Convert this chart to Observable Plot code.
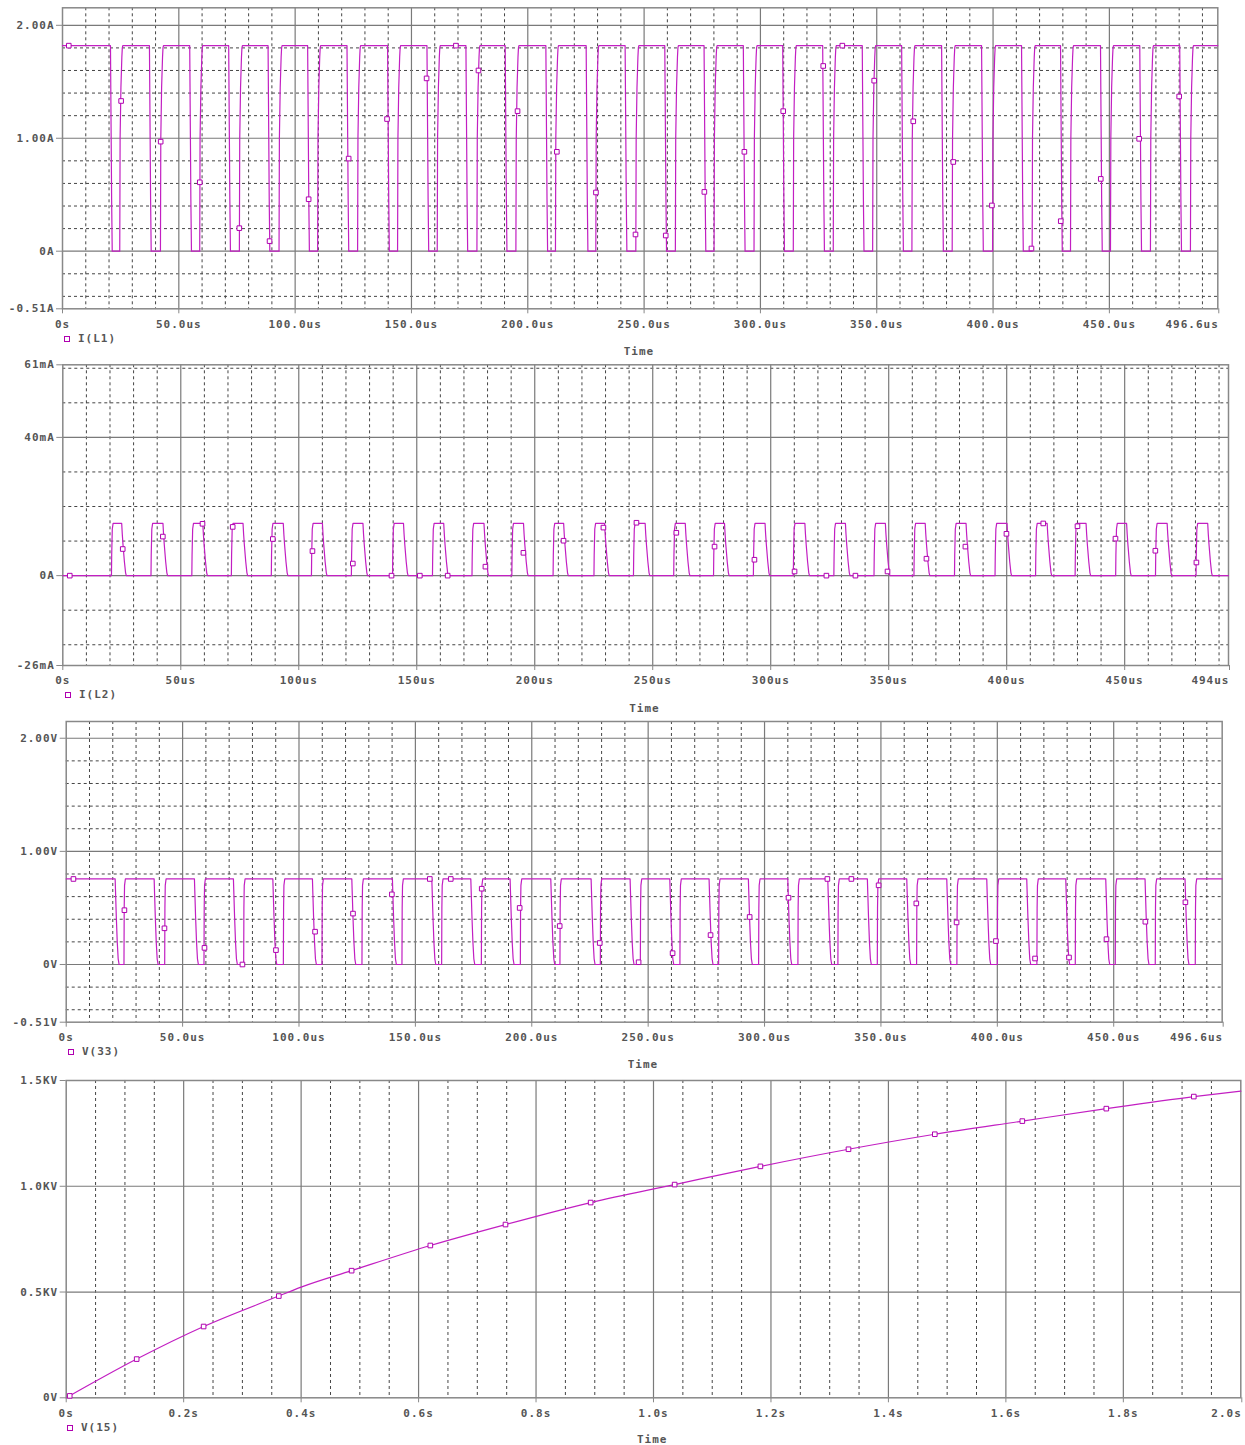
<!DOCTYPE html>
<html><head><meta charset="utf-8">
<script src="https://cdn.jsdelivr.net/npm/d3@7"></script>
<script src="https://cdn.jsdelivr.net/npm/@observablehq/plot@0.6"></script>
<style>
html,body{margin:0;padding:0;background:#fff;}
#root{position:relative;width:1245px;height:1445px;overflow:hidden;background:#fff;}
.panel{position:absolute;left:0;}
.panel text{letter-spacing:1px;}
.lbl{position:absolute;font-family:"DejaVu Sans Mono",monospace;font-size:11px;line-height:12px;font-weight:bold;color:#555;letter-spacing:1px;white-space:nowrap;}
.mk{position:absolute;width:4px;height:4px;border:1px solid #b000b0;background:#fff;}
</style></head><body><div id="root"></div>
<script>
// ---------- DATA ----------
// switching instants in microseconds (shared by I(L1), I(L2), V(33))
const FALL_US = [20.62,37.37,54.68,71.43,88.36,105.37,122.29,139.73,156.66,173.41,190.29,207.77,225.09,241.84,258.89,275.77,292.65,309.58,326.76,343.77,360.70,377.88,395.06,412.24,429.00,446.18,463.06,480.24];
const RISE_US = [24.61,42.10,58.98,76.03,93.08,109.67,126.85,144.03,161.08,178.14,194.89,211.90,229.25,246.44,263.44,280.07,297.25,314.13,331.31,348.24,365.12,382.43,399.79,416.80,433.29,450.47,467.65,484.84];

// I(L1) levels (A) and edge shapes [offset us, A]
const L1_HIGH = 1.82;
const L1_FALL_SHAPE = [[0,1.82],[0.3,1.0],[0.5,0.45],[0.75,0]];
const L1_RISE_SHAPE = [[0,0],[0.15,1.0],[0.5,1.45],[0.9,1.72],[1.1,1.80],[1.3,1.82]];
const L1_MARK_T = [2.7,25.2,42.2,59.0,76.0,89.0,105.8,123.0,139.5,156.5,169.1,178.8,195.6,212.5,229.3,246.3,259.3,275.9,293.1,309.8,327.0,335.2,348.9,365.7,382.9,399.5,416.5,429.1,446.3,462.8,480.0];
const L1_MARK_A = [1.82,1.33,0.97,0.61,0.204,0.089,0.46,0.82,1.17,1.53,1.82,1.6,1.24,0.88,0.52,0.148,0.139,0.525,0.88,1.24,1.64,1.82,1.51,1.15,0.79,0.405,0.024,0.266,0.64,0.995,1.37];

// I(L2) pulse shapes (mA)
const L2_RISE_SHAPE = [[0,0],[0.1,6],[0.35,13.5],[0.7,15.1]];
const L2_FALL_SHAPE = [[0.35,15.1],[0.6,12],[0.9,9],[1.5,4],[2.0,0.8],[2.3,0]];
const L2_MARK_T = [2.95,25.4,42.4,59.2,72.0,89.0,105.8,122.9,139.3,151.3,163.1,179.1,195.2,212.2,229.1,243.1,260.0,276.2,293.1,310.1,323.6,335.9,349.5,366.0,382.5,399.9,415.5,430.0,446.1,463.0,480.4];
const L2_MARK_MA = [0,7.7,11.3,15.0,14.1,10.6,7.1,3.5,0,0,0,2.6,6.6,10.1,13.9,15.3,12.4,8.4,4.6,1.2,0,0,1.2,4.9,8.4,12.1,15.1,14.3,10.7,7.2,3.8];

// V(33) (V)
const V33_HIGH = 0.756;
const V33_FALL_SHAPE = [[0.4,0.756],[0.6,0.62],[0.9,0.42],[1.3,0.2],[1.7,0.05],[2.1,0]];
const V33_RISE_SHAPE = [[0.2,0],[0.3,0.5],[0.45,0.70],[0.8,0.756]];
const V33_MARK_T = [3.1,25.0,42.2,59.4,75.7,90.1,106.9,123.2,139.9,156.2,165.2,178.5,194.8,212.0,229.2,245.9,260.5,276.8,293.6,310.3,327.0,337.3,349.0,365.2,382.5,399.4,416.2,430.8,446.9,463.6,480.8];
const V33_MARK_V = [0.756,0.48,0.32,0.147,0,0.127,0.29,0.45,0.62,0.756,0.756,0.67,0.50,0.34,0.19,0.02,0.10,0.26,0.42,0.59,0.756,0.756,0.70,0.54,0.372,0.207,0.053,0.062,0.224,0.378,0.55];

// V(15) (s, kV)
const V15_T  = [0,0.12,0.234,0.362,0.4,0.486,0.62,0.748,0.893,1.036,1.182,1.332,1.479,1.628,1.771,1.92,2.0];
const V15_KV = [0,0.183,0.337,0.481,0.523,0.601,0.72,0.819,0.923,1.008,1.094,1.175,1.246,1.308,1.367,1.424,1.45];
const V15_MARK_T  = [0.006,0.12,0.234,0.362,0.486,0.62,0.748,0.893,1.036,1.182,1.332,1.479,1.628,1.771,1.92];
const V15_MARK_KV = [0.009,0.183,0.337,0.481,0.601,0.72,0.819,0.923,1.008,1.094,1.175,1.246,1.308,1.367,1.424];

// tick labels
const US_TICKS = [0,50,100,150,200,250,300,350,400,450];
const P1_XLABELS = ["0s","50.0us","100.0us","150.0us","200.0us","250.0us","300.0us","350.0us","400.0us","450.0us"];
const P2_XLABELS = ["0s","50us","100us","150us","200us","250us","300us","350us","400us","450us"];
const S_TICKS = [0,0.2,0.4,0.6,0.8,1.0,1.2,1.4,1.6,1.8];
const P4_XLABELS = ["0s","0.2s","0.4s","0.6s","0.8s","1.0s","1.2s","1.4s","1.6s","1.8s"];
const P1_YTICKS = [2,1,0,-0.51], P1_YLABELS = ["2.00A","1.00A","0A","-0.51A"];
const P2_YTICKS = [61,40,0,-26], P2_YLABELS = ["61mA","40mA","0A","-26mA"];
const P3_YTICKS = [2,1,0,-0.51], P3_YLABELS = ["2.00V","1.00V","0V","-0.51V"];
const P4_YTICKS = [1.5,1.0,0.5,0], P4_YLABELS = ["1.5KV","1.0KV","0.5KV","0V"];

// ---------- build tables ----------
function wave(start, fallShape, riseShape, endT, endV) {
  const rows = [{t: 0, v: start}];
  FALL_US.forEach((tf, i) => {
    fallShape.forEach(([dt, v]) => rows.push({t: tf + dt, v}));
    riseShape.forEach(([dt, v]) => rows.push({t: RISE_US[i] + dt, v}));
  });
  rows.push({t: endT, v: endV});
  return rows;
}
const l1Rows = wave(L1_HIGH, L1_FALL_SHAPE, L1_RISE_SHAPE, 496.6, L1_HIGH);
const l2Rows = wave(0, L2_RISE_SHAPE, L2_FALL_SHAPE, 494, 0);
const v33Rows = wave(V33_HIGH, V33_FALL_SHAPE, V33_RISE_SHAPE, 496.6, V33_HIGH);
const zip = (T, V) => T.map((t, i) => ({t, v: V[i]}));
const v15Rows = zip(V15_T, V15_KV);

const TRACE = "#c21fc2", MARK = "#b000b0", DASH = "#444", MAJOR = "#7a7a7a", FRAME = "#888";
const root = document.getElementById("root");

function panel(cfg) {
  const xMinor = d3.range(cfg.minorStep, cfg.xDomain[1] - 1e-9, cfg.minorStep)
    .filter(v => Math.abs(v / cfg.majorStep - Math.round(v / cfg.majorStep)) > 1e-6);
  const xMajor = d3.range(cfg.majorStep, cfg.xDomain[1] - 1e-9, cfg.majorStep);
  const fmtX = new Map(cfg.xTicks.map((d, i) => [d, cfg.xLabels[i]]));
  const fmtY = new Map(cfg.yTicks.map((d, i) => [d, cfg.yLabels[i]]));
  const txt = {fontFamily: "DejaVu Sans Mono", fontSize: 11, fontWeight: "bold", fill: "#555"};
  const svg = Plot.plot({
    width: 1245, height: cfg.height,
    marginLeft: cfg.ml, marginRight: cfg.mr, marginTop: cfg.mt, marginBottom: cfg.mb,
    x: {domain: cfg.xDomain, label: null},
    y: {domain: cfg.yDomain, label: null},
    style: {background: "transparent", color: "#555", fontFamily: "DejaVu Sans Mono"},
    marks: [
      Plot.ruleX(xMinor, {stroke: DASH, strokeDasharray: "3,3", strokeWidth: 1}),
      Plot.ruleY(cfg.yMinor, {stroke: DASH, strokeDasharray: "3,3", strokeWidth: 1}),
      Plot.ruleX(xMajor, {stroke: MAJOR, strokeWidth: 1.2}),
      Plot.ruleY(cfg.yMajor, {stroke: MAJOR, strokeWidth: 1.2}),
      Plot.frame({stroke: FRAME, strokeWidth: 1.5}),
      Plot.line(cfg.rows, {x: "t", y: "v", stroke: TRACE, strokeWidth: 1.2, curve: cfg.curve || "linear"}),
      Plot.dot(cfg.marks, {x: "t", y: "v", symbol: "square", r: 2.6, stroke: MARK, fill: "white", strokeWidth: 1}),
      Plot.axisX(cfg.xTicks, {tickSize: 5, tickPadding: 6, stroke: FRAME, tickFormat: d => fmtX.get(d), label: null, ...txt}),
      Plot.axisX([cfg.xDomain[1]], {tickSize: 5, tickPadding: 6, stroke: FRAME, textAnchor: "end", dx: 1, tickFormat: () => cfg.xLast, label: null, ...txt}),
      Plot.axisY(cfg.yTicks, {tickSize: 6, tickPadding: 2, stroke: FRAME, tickFormat: d => fmtY.get(d), label: null, ...txt})
    ]
  });
  svg.classList.add("panel");
  svg.style.top = cfg.top + "px";
  root.appendChild(svg);
  // legend + Time label
  const mk = document.createElement("div");
  mk.className = "mk"; mk.style.left = (cfg.legX - 3) + "px"; mk.style.top = (cfg.legY - 3) + "px";
  root.appendChild(mk);
  const lg = document.createElement("div");
  lg.className = "lbl"; lg.textContent = cfg.name;
  lg.style.left = (cfg.legX + 11) + "px"; lg.style.top = (cfg.legY - 6) + "px";
  root.appendChild(lg);
  const tm = document.createElement("div");
  tm.className = "lbl"; tm.textContent = "Time";
  const cx = (cfg.ml + (1245 - cfg.mr)) / 2;
  tm.style.left = (cx - 16) + "px"; tm.style.top = (cfg.timeY - 6) + "px";
  root.appendChild(tm);
}

const dashA = [-0.4,-0.2,0.2,0.4,0.6,0.8,1.2,1.4,1.6,1.8];

panel({top: 0, height: 330.3, ml: 62, mr: 27.7, mt: 7.3, mb: 22,
  xDomain: [0, 496.6], yDomain: [-0.51, 2.155], minorStep: 10, majorStep: 50,
  yMinor: dashA, yMajor: [0, 1, 2],
  xTicks: US_TICKS, xLabels: P1_XLABELS, xLast: "496.6us",
  yTicks: P1_YTICKS, yLabels: P1_YLABELS,
  rows: l1Rows, marks: zip(L1_MARK_T, L1_MARK_A),
  name: "I(L1)", legX: 67, legY: 338.5, timeY: 352});

panel({top: 355, height: 332, ml: 62.3, mr: 17, mt: 9.3, mb: 22,
  xDomain: [0, 494], yDomain: [-26, 61], minorStep: 10, majorStep: 50,
  yMinor: [-20,-10,10,20,30,50,60], yMajor: [0, 40],
  xTicks: US_TICKS, xLabels: P2_XLABELS, xLast: "494us",
  yTicks: P2_YTICKS, yLabels: P2_YLABELS,
  rows: l2Rows, marks: zip(L2_MARK_T, L2_MARK_MA),
  name: "I(L2)", legX: 68, legY: 695, timeY: 708.5});

panel({top: 712, height: 331.7, ml: 65.7, mr: 23.3, mt: 9, mb: 22,
  xDomain: [0, 496.6], yDomain: [-0.51, 2.148], minorStep: 10, majorStep: 50,
  yMinor: dashA, yMajor: [0, 1, 2],
  xTicks: US_TICKS, xLabels: P1_XLABELS, xLast: "496.6us",
  yTicks: P3_YTICKS, yLabels: P3_YLABELS,
  rows: v33Rows, marks: zip(V33_MARK_T, V33_MARK_V),
  name: "V(33)", legX: 71, legY: 1051.7, timeY: 1065});

panel({top: 1070, height: 349.3, ml: 65.7, mr: 4.7, mt: 10, mb: 22,
  xDomain: [0, 2.0], yDomain: [0, 1.5], minorStep: 0.05, majorStep: 0.2,
  yMinor: [], yMajor: [0.5, 1.0],
  xTicks: S_TICKS, xLabels: P4_XLABELS, xLast: "2.0s",
  yTicks: P4_YTICKS, yLabels: P4_YLABELS,
  rows: v15Rows, curve: "monotone-x", marks: zip(V15_MARK_T, V15_MARK_KV),
  name: "V(15)", legX: 70, legY: 1428.3, timeY: 1440});
</script></body></html>
